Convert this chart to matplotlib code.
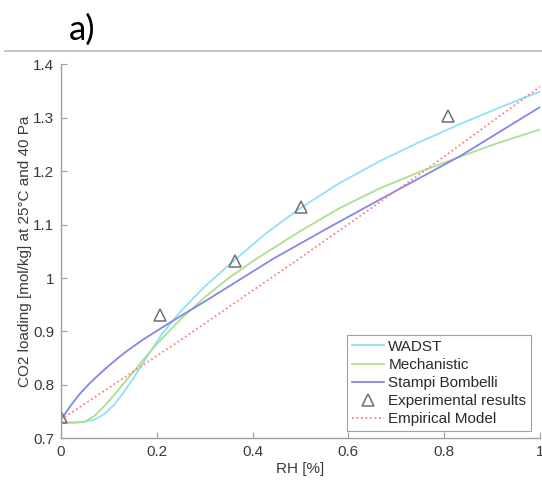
import matplotlib
matplotlib.use("Agg")
import matplotlib.pyplot as plt
from matplotlib.lines import Line2D

plt.rcParams['font.family'] = ['Liberation Sans', 'DejaVu Sans']

# WADST model
wadst_x = [0, 0.03, 0.05, 0.07, 0.09, 0.11, 0.13, 0.15, 0.17, 0.19, 0.21, 0.25, 0.3, 0.363,
           0.43, 0.5, 0.58, 0.666, 0.75, 0.83, 0.91, 1.0]
wadst_y = [0.730, 0.730, 0.731, 0.735, 0.745, 0.762, 0.785, 0.811, 0.839, 0.867, 0.894, 0.938,
           0.984, 1.034, 1.085, 1.131, 1.177, 1.219, 1.255, 1.287, 1.317, 1.349]

# Mechanistic model
mech_x = [0, 0.03, 0.05, 0.07, 0.09, 0.11, 0.13, 0.15, 0.17, 0.19, 0.21, 0.25, 0.3, 0.35,
          0.408, 0.5, 0.582, 0.666, 0.75, 0.833, 0.91, 1.0]
mech_y = [0.729, 0.729, 0.731, 0.742, 0.760, 0.780, 0.802, 0.823, 0.845, 0.866, 0.886, 0.923,
          0.964, 1.000, 1.036, 1.088, 1.131, 1.168, 1.199, 1.227, 1.252, 1.278]

# Stampi Bombelli model
stampi_x = [0, 0.02, 0.04, 0.06, 0.08, 0.1, 0.12, 0.137, 0.17, 0.207, 0.25, 0.3, 0.35, 0.443,
            0.55, 0.666, 0.833, 1.0]
stampi_y = [0.735, 0.761, 0.784, 0.803, 0.820, 0.836, 0.851, 0.863, 0.884, 0.905, 0.929, 0.956,
            0.984, 1.036, 1.090, 1.147, 1.228, 1.320]

# Experimental results
exp_x = [0, 0.207, 0.363, 0.5, 0.807]
exp_y = [0.74, 0.931, 1.032, 1.132, 1.303]

# Empirical model
emp_x = [0, 0.25, 0.5, 0.75, 1.0]
emp_y = [0.735, 0.884, 1.038, 1.195, 1.358]

x_ticks = [0, 0.2, 0.4, 0.6, 0.8, 1]
x_ticklabels = ['0', '0.2', '0.4', '0.6', '0.8', '1']
y_ticks = [0.7, 0.8, 0.9, 1.0, 1.1, 1.2, 1.3, 1.4]
y_ticklabels = ['0.7', '0.8', '0.9', '1', '1.1', '1.2', '1.3', '1.4']

fig = plt.figure(figsize=(5.42, 4.83), dpi=100)
ax = fig.add_axes([61/542, 1-438.3/483, 479/542, 374/483])

ax.plot(wadst_x, wadst_y, color='#8fe1fa', lw=1.3, label='WADST')
ax.plot(mech_x, mech_y, color='#abe08e', lw=1.3, label='Mechanistic')
ax.plot(stampi_x, stampi_y, color='#8585ee', lw=1.3, label='Stampi Bombelli')
ax.plot(exp_x, exp_y, linestyle='none', marker='^', markersize=8, markerfacecolor='none',
        markeredgecolor='#707070', markeredgewidth=1.1, label='Experimental results')
ax.plot(emp_x, emp_y, color='#ff7f7f', lw=1.3, linestyle=(0, (1, 1.5)), label='Empirical Model')

ax.set_xlim(0, 1)
ax.set_ylim(0.7, 1.4)
ax.set_xticks(x_ticks)
ax.set_xticklabels(x_ticklabels)
ax.set_yticks(y_ticks)
ax.set_yticklabels(y_ticklabels)

for s in ['top', 'right']:
    ax.spines[s].set_visible(False)
for s in ['left', 'bottom']:
    ax.spines[s].set_color('#a0a0a0')
    ax.spines[s].set_linewidth(1.0)
ax.tick_params(direction='in', length=4, width=0.8, color='#a0a0a0', labelcolor='#3a3a3a',
               labelsize=11, pad=5)

ax.set_xlabel('RH [%]', fontsize=11, color='#3a3a3a', labelpad=2)
ax.set_ylabel('CO2 loading [mol/kg] at 25°C and 40 Pa', fontsize=11, color='#3a3a3a', labelpad=1)

leg = ax.legend(loc='lower right', bbox_to_anchor=(0.981, 0.02), borderaxespad=0,
                fontsize=11, handlelength=2.1, handletextpad=0.3, labelspacing=0.27,
                fancybox=False, framealpha=1, edgecolor='#a0a0a0', borderpad=0.3)
leg.get_frame().set_linewidth(0.8)
for t in leg.get_texts():
    t.set_color('#2a2a2a')

fig.add_artist(Line2D([5/542, 1], [1-51/483, 1-51/483], color='#c0c0c0', lw=1.3,
                      transform=fig.transFigure))
fig.text(69/542, 1-30/483, 'a)', fontsize=25, family=['Lato', 'DejaVu Sans'],
         va='center', ha='left', color='black')

fig.savefig('out.png', dpi=100)
